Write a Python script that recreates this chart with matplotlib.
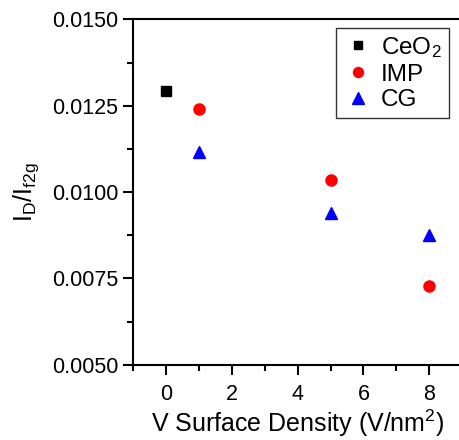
import numpy as np
import matplotlib
matplotlib.use("Agg")
import matplotlib.pyplot as plt
from matplotlib.ticker import MultipleLocator

plt.rcParams['font.family'] = ['Liberation Sans', 'DejaVu Sans']
plt.rcParams['mathtext.fontset'] = 'custom'
plt.rcParams['mathtext.rm'] = 'Liberation Sans'
plt.rcParams['mathtext.it'] = 'Liberation Sans'

ceo2_x = [0]
ceo2_y = [0.01294]
imp_x = [1, 5, 8]
imp_y = [0.01240, 0.01036, 0.00727]
cg_x = [1, 5, 8]
cg_y = [0.01115, 0.00940, 0.00877]

fig = plt.figure(figsize=(4.59, 4.40), dpi=100)
ax = fig.add_axes([0.290, 0.171, 0.717, 0.785])

ax.plot(ceo2_x, ceo2_y, 's', color='black', markersize=7, label='CeO$_2$')
ax.plot(imp_x, imp_y, 'o', color='red', markersize=8, label='IMP')
ax.plot(cg_x, cg_y, '^', color='blue', markersize=9, label='CG')

ax.set_xlim(-1, 9)
ax.set_ylim(0.005, 0.015)
ax.xaxis.set_major_locator(MultipleLocator(2))
ax.xaxis.set_minor_locator(MultipleLocator(1))
ax.yaxis.set_major_locator(MultipleLocator(0.0025))
ax.yaxis.set_minor_locator(MultipleLocator(0.00125))
ax.yaxis.set_major_formatter(matplotlib.ticker.FormatStrFormatter('%.4f'))

for s in ax.spines.values():
    s.set_linewidth(1.5)
ax.tick_params(which='major', direction='out', length=7.5, width=1.5, labelsize=15.5)
ax.tick_params(axis='x', which='major', pad=6)
ax.tick_params(axis='y', which='major', pad=3)
ax.tick_params(which='minor', direction='out', length=4, width=1.5)
ax.tick_params(top=False, right=False)

ax.set_xlabel('V Surface Density (V/nm$^2$)', fontsize=18, labelpad=2)
ax.set_ylabel('I$_D$/I$_{f2g}$', fontsize=18, labelpad=8)

leg = ax.legend(loc='upper right', bbox_to_anchor=(0.975, 0.99), fontsize=17.5,
                frameon=True, fancybox=False, borderpad=0.3, handletextpad=0.35,
                handlelength=1.2, labelspacing=0.15, borderaxespad=0.2,
                markerscale=0.9)
leg.get_frame().set_edgecolor('black')
leg.get_frame().set_linewidth(1.0)

fig.savefig('out.png', dpi=100)
